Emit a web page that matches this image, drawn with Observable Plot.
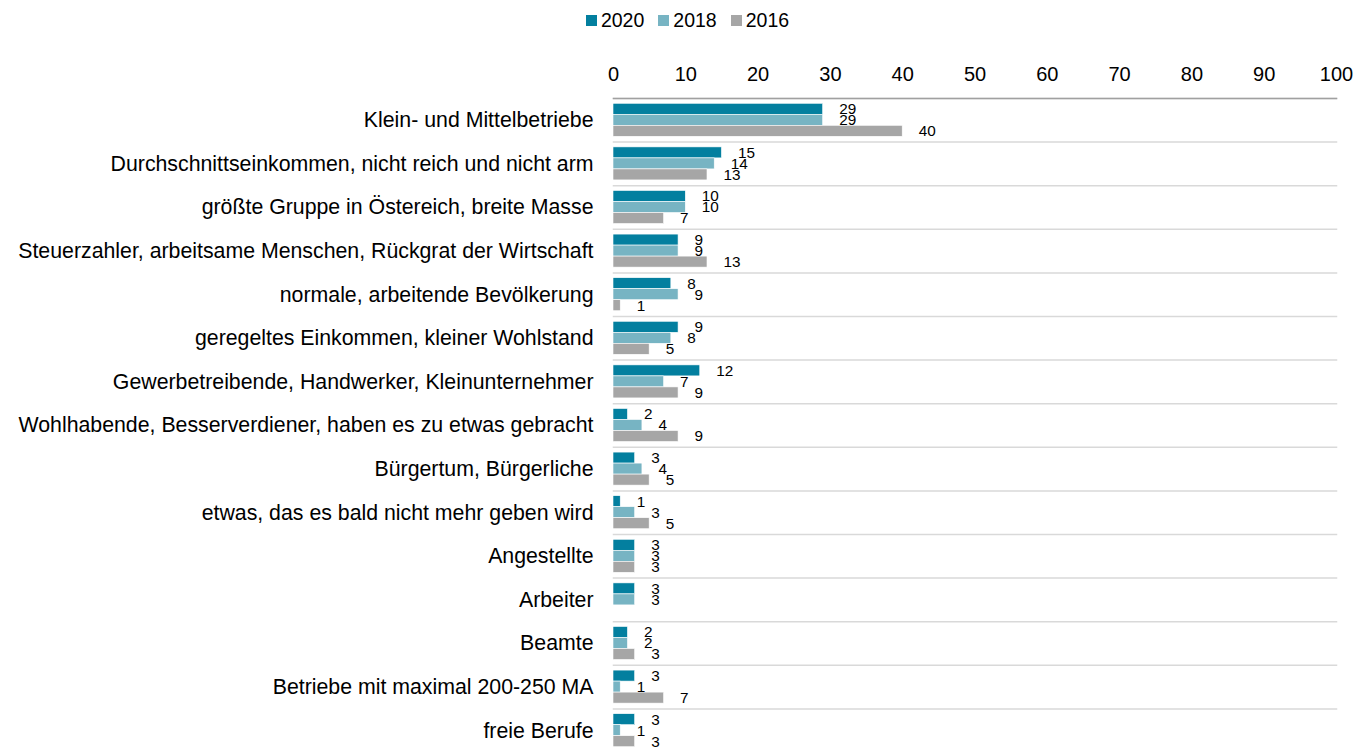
<!DOCTYPE html>
<html>
<head>
<meta charset="utf-8">
<script src="https://cdn.jsdelivr.net/npm/d3@7"></script>
<script src="https://cdn.jsdelivr.net/npm/@observablehq/plot@0.6"></script>
<style>
  html, body { margin: 0; padding: 0; overflow: hidden; background: #fff; }
  body { font-family: "Liberation Sans", Arial, sans-serif; width: 1365px; height: 749px; }
  #legend { height: 40px; display: flex; justify-content: center; align-items: center; font-size: 19.5px; color: #000; padding-left: 10px; }
  #legend .item { display: flex; align-items: center; margin: 0 7px; }
  #legend .sw { width: 11px; height: 11px; margin-right: 4px; }
  #chart svg { display: block; }
</style>
</head>
<body>
<div id="legend"></div>
<div id="chart"></div>
<script>
const categories = [
  "Klein- und Mittelbetriebe",
  "Durchschnittseinkommen, nicht reich und nicht arm",
  "größte Gruppe in Östereich, breite Masse",
  "Steuerzahler, arbeitsame Menschen, Rückgrat der Wirtschaft",
  "normale, arbeitende Bevölkerung",
  "geregeltes Einkommen, kleiner Wohlstand",
  "Gewerbetreibende, Handwerker, Kleinunternehmer",
  "Wohlhabende, Besserverdiener, haben es zu etwas gebracht",
  "Bürgertum, Bürgerliche",
  "etwas, das es bald nicht mehr geben wird",
  "Angestellte",
  "Arbeiter",
  "Beamte",
  "Betriebe mit maximal 200-250 MA",
  "freie Berufe"
];
const years = ["2020", "2018", "2016"];
const values2020 = [29, 15, 10, 9, 8, 9, 12, 2, 3, 1, 3, 3, 2, 3, 3];
const values2018 = [29, 14, 10, 9, 9, 8, 7, 4, 4, 3, 3, 3, 2, 1, 1];
const values2016 = [40, 13, 7, 13, 1, 5, 9, 9, 5, 5, 3, null, 3, 7, 3];
const colors = ["#037f9f", "#77b4c3", "#a6a6a6"];
const xTicks = [0, 10, 20, 30, 40, 50, 60, 70, 80, 90, 100];

const series = [values2020, values2018, values2016];
const data = categories.flatMap((c, i) =>
  years.map((y, j) => ({category: c, year: y, value: series[j][i]}))
).filter(d => d.value != null);

// legend
const legend = document.getElementById("legend");
years.forEach((y, j) => {
  const it = document.createElement("div");
  it.className = "item";
  const sw = document.createElement("span");
  sw.className = "sw";
  sw.style.background = colors[j];
  const t = document.createElement("span");
  t.textContent = y;
  it.appendChild(sw); it.appendChild(t);
  legend.appendChild(it);
});

const chart = Plot.plot({
  width: 1365,
  height: 712,
  marginLeft: 613,
  marginRight: 29,
  marginTop: 58,
  marginBottom: 0,
  style: {fontFamily: "'Liberation Sans', Arial, sans-serif", fontSize: "20px", color: "#000", background: "white"},
  x: {domain: [0, 100], axis: "top", ticks: xTicks, tickSize: 0, tickPadding: 18, label: null},
  fy: {domain: categories, padding: 0, round: false, label: null, axis: null},
  y: {domain: years, axis: null, paddingInner: 0, paddingOuter: 0.48, round: false},
  color: {domain: years, range: colors},
  marks: [
    Plot.axisFy({anchor: "left", tickSize: 0, tickPadding: 20, fontSize: 21.3, label: null}),
    Plot.frame({anchor: "top", stroke: "#d9d9d9", strokeWidth: 1.5}),
    Plot.frame({anchor: "top", stroke: "#a0a0a0", strokeWidth: 1.5, fy: [categories[0]]}),
    Plot.barX(data, {fy: "category", y: "year", x: "value", fill: "year", stroke: "white", strokeWidth: 0.6}),
    Plot.text(data, {fy: "category", y: "year", x: "value", text: d => String(d.value), textAnchor: "start", dx: 16, fontSize: 15.3, fill: "#000"})
  ]
});
document.getElementById("chart").appendChild(chart);
</script>
</body>
</html>
